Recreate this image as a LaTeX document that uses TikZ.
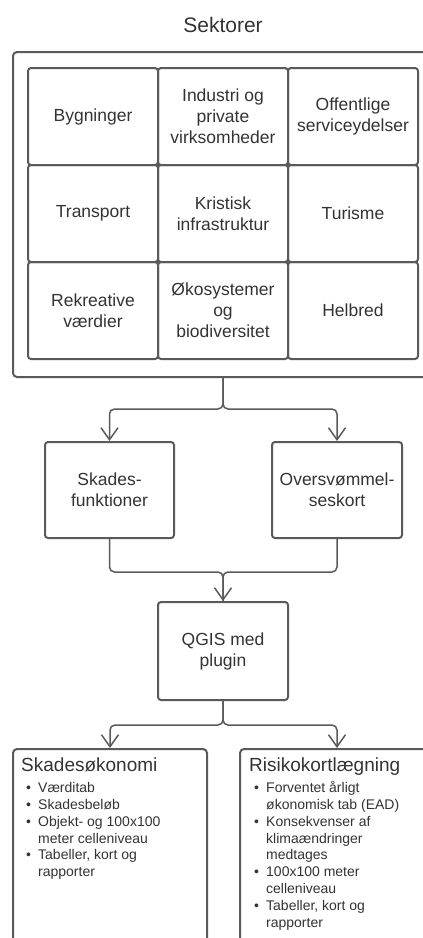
\documentclass[tikz,border=0pt]{standalone}
\usepackage{fontspec}
\setmainfont{Liberation Sans}
\usetikzlibrary{arrows.meta}
\definecolor{linegray}{HTML}{5A5A5A}
\definecolor{textgray}{HTML}{333333}
\newcommand{\pkt}{\makebox[17pt][l]{\hspace{5pt}\textbullet}}
\newcommand{\fortsat}{\hspace*{17pt}}
\tikzset{
  cell/.style={draw=linegray, line width=2pt, rounded corners=3pt, minimum width=130pt, minimum height=97pt,
    align=center, text=textgray, inner sep=2pt, font=\fontsize{17.5}{21}\selectfont},
  frame/.style={draw=linegray, line width=2pt, rounded corners=4pt, minimum width=420pt, minimum height=325pt},
  result/.style={draw=linegray, line width=2pt, rounded corners=4pt, minimum width=194pt, minimum height=230pt},
  resulttext/.style={anchor=north west, align=left, text=textgray, inner sep=0pt, font=\fontsize{14}{16.8}\selectfont},
  wire/.style={draw=linegray, line width=1.5pt, rounded corners=5pt},
  flow/.style={wire, -{Straight Barb[length=12pt,width=17pt]}},
}
\begin{document}
\begin{tikzpicture}[x=1pt, y=-1pt]
  \useasboundingbox (0,0) rectangle (423,938);
  \clip (0,0) rectangle (423,938);
  \node[text=textgray, font=\fontsize{21}{25}\selectfont] (title) at (223,25) {Sektorer};
  \node[frame] (sektorer) at (223,214.5) {};
  % sektorer
  \node[cell] (byg) at (93,116.5) {Bygninger};
  \node[cell] (ind) at (223,116.5) {Industri og\\private\\virksomheder};
  \node[cell] (off) at (353,116.5) {Offentlige\\serviceydelser};
  \node[cell] (tra) at (93,213.5) {Transport};
  \node[cell] (kri) at (223,213.5) {Kristisk\\infrastruktur};
  \node[cell] (tur) at (353,213.5) {Turisme};
  \node[cell] (rek) at (93,310.5) {Rekreative\\værdier};
  \node[cell] (oko) at (223,310.5) {Økosystemer\\og\\biodiversitet};
  \node[cell] (hel) at (353,310.5) {Helbred};
  % input
  \node[cell, minimum width=129pt, minimum height=96pt] (skades) at (109.5,490) {Skades-\\funktioner};
  \node[cell, minimum height=96pt] (oversv) at (337,490) {Oversvømmel-\\seskort};
  \node[cell, minimum height=98pt] (qgis) at (223,651) {QGIS med\\plugin};
  % output
  \node[result] (econ) at (110,864) {};
  \node[result] (risk) at (337,864) {};
  \node[resulttext, xshift=9pt, yshift=-10pt] (econtxt) at (econ.north west) {%
    {\fontsize{19}{22}\selectfont Skadesøkonomi}\\[4pt]
    \pkt Værditab\\
    \pkt Skadesbeløb\\
    \pkt Objekt- og 100x100\\
    \fortsat meter celleniveau\\
    \pkt Tabeller, kort og\\
    \fortsat rapporter};
  \node[resulttext, xshift=10pt, yshift=-10pt] (risktxt) at (risk.north west) {%
    {\fontsize{19}{22}\selectfont Risikokortlægning}\\[4pt]
    \pkt Forventet årligt\\
    \fortsat økonomisk tab (EAD)\\
    \pkt Konsekvenser af\\
    \fortsat klimaændringer\\
    \fortsat medtages\\
    \pkt 100x100 meter\\
    \fortsat celleniveau\\
    \pkt Tabeller, kort og\\
    \fortsat rapporter};
  % forbindelser
  \draw[flow] (sektorer.south) -- ++(0,31) -| (skades.north);
  \draw[flow] (sektorer.south) -- ++(0,31) -| (oversv.north);
  \draw[wire] (skades.south) -- ++(0,33) -| (qgis.north);
  \draw[flow] (oversv.south) -- ++(0,33) -| (qgis.north);
  \draw[flow] (qgis.south) -- ++(0,24) -| (econ.north);
  \draw[flow] (qgis.south) -- ++(0,24) -| (risk.north);
\end{tikzpicture}
\end{document}
